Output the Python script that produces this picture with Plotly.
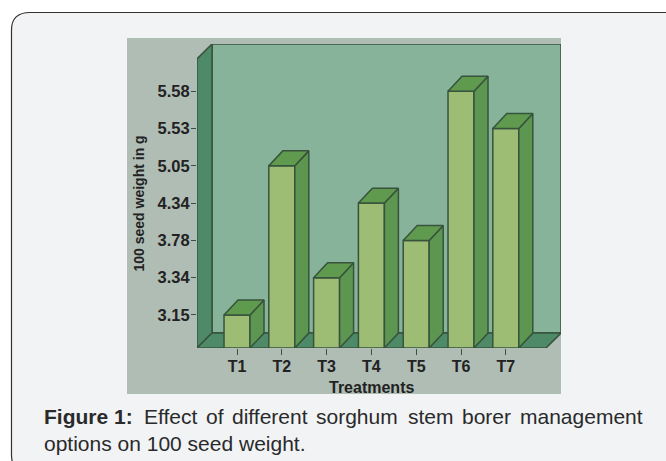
import plotly.graph_objects as go

categories = ["T1", "T2", "T3", "T4", "T5", "T6", "T7"]
seed_weight = ["3.15", "5.05", "3.34", "4.34", "3.78", "5.58", "5.53"]
tick_labels = ["3.15", "3.34", "3.78", "4.34", "5.05", "5.53", "5.58"]
x_title = "Treatments"
y_title = "100 seed weight in g"
caption_bold = "Figure 1:"
caption_line1 = ["Effect", "of", "different", "sorghum", "stem", "borer", "management"]
caption_line2 = "options on 100 seed weight."

W, H = 666, 461
# the value axis is evenly spaced by rank, as in the original
X_RANGE = [0.107, 8.232]
Y_RANGE = [0.115, 8.265]
DX, DY = 0.3125, 0.40
BAR_W = 0.58

FRONT, SIDE, TOP = "#9dbd74", "#5c9650", "#5f9a4f"
EDGE = "#37533c"
WALL, SIDEWALL = "#87b39b", "#4f8a68"
TEXT = "#222222"

xs = list(range(1, len(categories) + 1))
ys = [tick_labels.index(v) + 1 for v in seed_weight]

fig = go.Figure()
for x, y in zip(xs, ys):
    l, r = x - BAR_W / 2, x + BAR_W / 2
    fig.add_trace(go.Scatter(x=[r, r + DX, r + DX, r, r], y=[Y_RANGE[0], Y_RANGE[0] + DY, y + DY, y, Y_RANGE[0]],
                             fill="toself", fillcolor=SIDE, mode="lines", line=dict(color=EDGE, width=1.5),
                             showlegend=False, hoverinfo="skip"))
    fig.add_trace(go.Scatter(x=[l, l + DX, r + DX, r, l], y=[y, y + DY, y + DY, y, y],
                             fill="toself", fillcolor=TOP, mode="lines", line=dict(color=EDGE, width=1.5),
                             showlegend=False, hoverinfo="skip"))
fig.add_trace(go.Bar(x=xs, y=[y - Y_RANGE[0] for y in ys], base=Y_RANGE[0], width=BAR_W,
                     marker=dict(color=FRONT, line=dict(color=EDGE, width=1.5)), showlegend=False,
                     text=seed_weight, textposition="none"))

x0, x1 = X_RANGE
y0, y1 = Y_RANGE


def poly(pts, fill, line=EDGE, w=1.5):
    d = "M" + " L".join(f"{a},{b}" for a, b in pts) + " Z"
    return dict(type="path", path=d, xref="x", yref="y", fillcolor=fill, line=dict(color=line, width=w), layer="below")


def px(x):
    return x / W


def py(y):
    return 1 - y / H


wall_dx = 0.335
card_path = (f"M {px(11.5)},{py(455)} L {px(11.5)},{py(30)} Q {px(11.5)},{py(12.5)} {px(30)},{py(12.5)} "
             f"L {px(672)},{py(12.5)} L {px(672)},{py(470)} L {px(24)},{py(470)} Q {px(11.5)},{py(470)} {px(11.5)},{py(455)} Z")
shapes = [
    dict(type="path", xref="paper", yref="paper", path=card_path,
         fillcolor="#f1f3f5", line=dict(color="#333333", width=1.2), layer="below"),
    dict(type="rect", xref="paper", yref="paper", x0=px(127), x1=px(561), y0=py(38), y1=py(394),
         fillcolor="#b0bdb5", line=dict(width=0), layer="below"),
    poly([(x0 + wall_dx, y0 + DY), (x1, y0 + DY), (x1, y1), (x0 + wall_dx, y1)], WALL),
    poly([(x0, y0), (x0 + wall_dx, y0 + DY), (x0 + wall_dx, y1), (x0, y1 - DY)], SIDEWALL),
    poly([(x0, y0), (x0 + wall_dx, y0 + DY), (x1, y0 + DY), (x1 - wall_dx, y0)], SIDEWALL),
]

annotations = []


def txt(xp, yp, t, size=21, bold=False, anchor="left", angle=0, color="#2a2a2a"):
    annotations.append(dict(xref="paper", yref="paper", x=px(xp), y=py(yp), text=f"<b>{t}</b>" if bold else t,
                            showarrow=False, xanchor=anchor, yanchor="middle", textangle=angle,
                            font=dict(family="Liberation Sans", size=size, color=color)))


txt(42, 416, caption_bold, bold=True)
for xp, w in zip([142, 204, 230, 314, 406, 460, 518], caption_line1):
    txt(xp, 416, w)
txt(42, 443, caption_line2)
txt(372, 387, x_title, size=16, bold=True, anchor="center", color=TEXT)
txt(139, 203.5, y_title, size=14, bold=True, anchor="center", angle=-90, color=TEXT)

fig.update_layout(
    width=W, height=H, margin=dict(l=0, r=0, t=0, b=0), paper_bgcolor="white", plot_bgcolor="rgba(0,0,0,0)",
    barmode="overlay", shapes=shapes, annotations=annotations, font=dict(family="Liberation Sans", color=TEXT),
    xaxis=dict(domain=[197 / W, 561 / W], range=X_RANGE, tickvals=xs, ticktext=categories, ticks="outside", ticklen=6,
               tickcolor=EDGE, showgrid=False, zeroline=False, showline=False, automargin=False, ticklabelstandoff=-2,
               tickfont=dict(size=16, color=TEXT, weight="bold")),
    yaxis=dict(domain=[1 - 348 / H, 1 - 44 / H], range=Y_RANGE, tickvals=list(range(1, len(tick_labels) + 1)),
               ticktext=tick_labels, ticks="outside", ticklen=5, tickcolor=EDGE, showgrid=False, zeroline=False,
               showline=False, automargin=False, ticklabelstandoff=-2, tickfont=dict(size=16.5, color=TEXT, weight="bold")),
)
fig.write_html("out.html", config=dict(displayModeBar=False), post_script="document.body.style.margin='0';")
